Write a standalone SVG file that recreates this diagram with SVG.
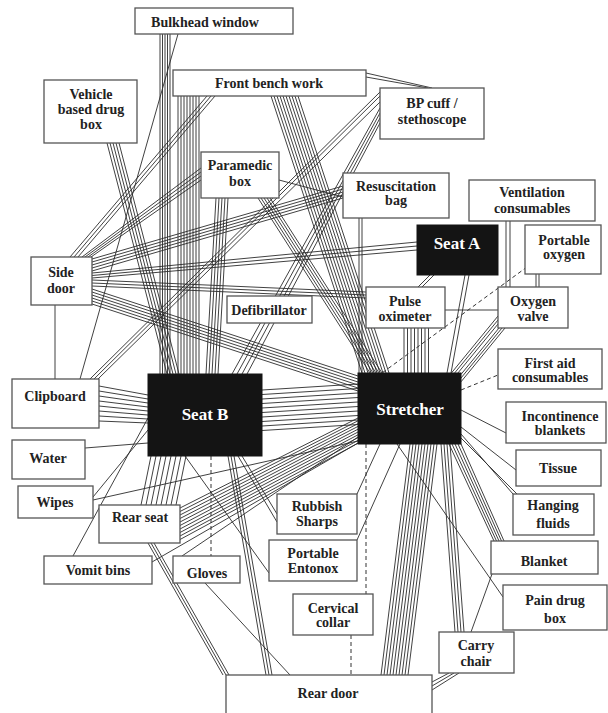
<svg xmlns="http://www.w3.org/2000/svg" width="608" height="713" viewBox="0 0 608 713">
<style>
.c{fill:none;stroke:#2b2b2b;stroke-width:0.9}
.d{fill:none;stroke:#333;stroke-width:1;stroke-dasharray:4 3}
.b{fill:#fff;stroke:#555;stroke-width:1.3}
.k{fill:#141414;stroke:#141414}
.t{font-family:"Liberation Serif","Times New Roman",serif;font-weight:bold;font-size:14px;fill:#222;text-anchor:middle}
.w{font-family:"Liberation Serif","Times New Roman",serif;font-weight:bold;font-size:17px;fill:#fff;text-anchor:middle}
</style>
<rect width="608" height="713" fill="#fff"/>
<g id="connectors">
<path class="c" d="M160 34V374M162.5 34V374M165 34V374M167.5 34V374M170 34V374"/>
<path class="c" d="M178 34L80 379"/>
<path class="c" d="M178 96V374M181 96V374M184 96V374M187 96V374M190 96V374M193 96V374M196 96V374M199 96V374"/>
<path class="c" d="M271 96L362 373M274 96L365 373M277 96L368 373M280 96L371 373M283 96L374 373M286 96L377 373M289 96L380 373M292 96L383 373M295 96L386 373M298 96L389 373"/>
<path class="c" d="M207 96L70 257M211 96L74 257M215 96L78 257"/>
<path class="c" d="M366 73L432 88M366 77L428 88"/>
<path class="c" d="M107 143L167 374M110 143L170 374M113 143L173 374M116 143L176 374M119 143L179 374"/>
<path class="c" d="M216 198L206 374M219 198L209 374M222 198L212 374M225 198L215 374M228 198L218 374"/>
<path class="c" d="M258 198L370 373M261 198L373 373M264 198L376 373M267 198L379 373M270 198L382 373"/>
<path class="c" d="M201 168L82 257M201 172L85 257M201 176L88 257M201 180L91 257"/>
<path class="c" d="M279 180L343 197"/>
<path class="c" d="M380 108L232 374M380 113L237 374M380 118L242 374M380 123L247 374"/>
<path class="c" d="M382 90L90 379M380 96L94 379M380 102L98 379"/>
<path class="c" d="M343 186L92 259M343 189L92 262M343 192L92 265M343 195L92 268M343 198L92 271"/>
<path class="c" d="M359 218V373M362 218V373"/>
<path class="c" d="M506 221V287M510 221V287"/>
<path class="c" d="M536 274V287M539 274V287"/>
<path class="c" d="M417 242L92 273M417 246L92 275.5M417 250L92 278"/>
<path class="c" d="M430 275L418 287M434 275L422 287"/>
<path class="c" d="M465 275L447 373M469 275L451 373"/>
<path class="c" d="M445 310H498"/>
<path class="c" d="M404 328V373M407.5 328V373M411 328V373M414.5 328V373M418 328V373M421.5 328V373M425 328V373M428.5 328V373"/>
<path class="d" d="M527 267L382 373"/>
<path class="c" d="M498 316L451.4 373M498 320L454.6 373M498 324L457.9 373M499 328L461 374.4M502 328L461 378M505 328L461 381.8"/>
<path class="d" d="M461 390L498 375"/>
<path class="c" d="M461 410L506 433"/>
<path class="c" d="M461 427L516 470"/>
<path class="c" d="M461 434L513 494M461 438L517 494"/>
<path class="c" d="M449 444L494 541M452 444L496.5 541M455 444L499 541M458 444L501.5 541M461 444L504 541"/>
<path class="c" d="M441 444L455 632M444 444L458 632M447 444L461 632M450 444L464 632"/>
<path class="c" d="M410 444L381 675M413 444L384 675M416 444L387 675M419 444L390 675M422 444L393 675M425 444L396 675M428 444L399 675M431 444L402 675M434 444L405 675M437 444L408 675"/>
<path class="c" d="M449 673L432 682M454 673L432 686M459 673L432 690"/>
<path class="c" d="M492 574L471 632"/>
<path class="c" d="M397 444L503 597"/>
<path class="c" d="M380 444L357 494"/>
<path class="c" d="M400 444L357 540"/>
<path class="d" d="M366 444V594"/>
<path class="d" d="M351 635V675"/>
<path class="c" d="M262 390L358 384M262 394.5L358 388.5M262 399L358 393M262 403.5L358 397.5M262 408L358 402M262 412.5L358 406.5M262 417L358 411M262 421.5L358 415.5M262 426L358 420M262 430.5L358 424.5"/>
<path class="c" d="M99 386L148 395M99 391L148 399M99 396L148 403M99 401L148 407M99 406L148 411M99 411L148 415M99 416L148 419M99 421L148 423"/>
<path class="c" d="M85 448L148 443"/>
<path class="c" d="M93 497L148 430"/>
<path class="c" d="M93 500L358 441"/>
<path class="c" d="M73 556L148 418"/>
<path class="c" d="M152 562L358 443"/>
<path class="c" d="M141 505L151 456M146 505L156 456M151 505L161 456M156 505L166 456M161 505L171 456M166 505L176 456M171 505L181 456M176 505L186 456"/>
<path class="c" d="M180 508L358 418M180 511.5L358 420.8M180 515L358 423.6M180 518.5L358 426.4M180 522L358 429.2M180 525.5L358 432M180 529L358 434.8M180 532.5L358 437.6M180 536L358 440.4M180 539.5L358 443.2"/>
<path class="c" d="M148 543L223 675M151 543L226 675M154 543L229 675"/>
<path class="d" d="M211 456V556"/>
<path class="c" d="M205 583L290 675"/>
<path class="c" d="M182 556L358 437"/>
<path class="c" d="M228 456L266 675M231 456L269 675M234 456L272 675"/>
<path class="c" d="M185 456L269 573"/>
<path class="c" d="M238 456L277 522M242 456L277 514"/>
<path class="c" d="M55 305V379"/>
<path class="c" d="M92 289L358 376M92 292L358 379M92 295L358 382M92 298L358 385M92 301L358 388M92 304L358 391"/>
<path class="c" d="M92 280L366 292M92 283L366 295M92 286L366 298"/>
</g>
<g id="bulkhead-window"><rect class="b" x="135" y="8" width="158" height="26"/><text class="t" x="205" y="27">Bulkhead window</text></g>
<g id="front-bench-work"><rect class="b" x="173" y="70" width="193" height="26"/><text class="t" x="269" y="88">Front bench work</text></g>
<g id="vehicle-drug-box"><rect class="b" x="44" y="80" width="93" height="63"/><text class="t" x="91" y="99">Vehicle</text><text class="t" x="91" y="114">based drug</text><text class="t" x="91" y="129">box</text></g>
<g id="paramedic-box"><rect class="b" x="201" y="152" width="78" height="46"/><text class="t" x="240" y="170">Paramedic</text><text class="t" x="240" y="186">box</text></g>
<g id="bp-cuff"><rect class="b" x="380" y="88" width="104" height="51"/><text class="t" x="432" y="108">BP cuff /</text><text class="t" x="432" y="124">stethoscope</text></g>
<g id="resuscitation-bag"><rect class="b" x="343" y="173" width="106" height="45"/><text class="t" x="396" y="191">Resuscitation</text><text class="t" x="396" y="205">bag</text></g>
<g id="ventilation-consumables"><rect class="b" x="469" y="180" width="126" height="41"/><text class="t" x="532" y="197">Ventilation</text><text class="t" x="532" y="213">consumables</text></g>
<g id="seat-a"><rect class="k" x="417" y="225" width="81" height="50"/><text class="w" x="457" y="249">Seat A</text></g>
<g id="portable-oxygen"><rect class="b" x="525" y="225" width="76" height="49"/><text class="t" x="564" y="245">Portable</text><text class="t" x="564" y="259">oxygen</text></g>
<g id="side-door"><rect class="b" x="31" y="257" width="61" height="48"/><text class="t" x="61" y="277">Side</text><text class="t" x="61" y="293">door</text></g>
<g id="defibrillator"><rect class="b" x="227" y="296" width="85" height="27"/><text class="t" x="269" y="315">Defibrillator</text></g>
<g id="pulse-oximeter"><rect class="b" x="366" y="287" width="79" height="41"/><text class="t" x="405" y="306">Pulse</text><text class="t" x="405" y="321">oximeter</text></g>
<g id="oxygen-valve"><rect class="b" x="498" y="287" width="70" height="41"/><text class="t" x="533" y="306">Oxygen</text><text class="t" x="533" y="321">valve</text></g>
<g id="clipboard"><rect class="b" x="12" y="379" width="87" height="49"/><text class="t" x="55" y="401">Clipboard</text></g>
<g id="seat-b"><rect class="k" x="148" y="374" width="114" height="82"/><text class="w" x="205" y="420">Seat B</text></g>
<g id="stretcher"><rect class="k" x="358" y="373" width="103" height="71"/><text class="w" x="410" y="415">Stretcher</text></g>
<g id="first-aid-consumables"><rect class="b" x="498" y="349" width="104" height="40"/><text class="t" x="550" y="368">First aid</text><text class="t" x="550" y="382">consumables</text></g>
<g id="incontinence-blankets"><rect class="b" x="506" y="402" width="100" height="41"/><text class="t" x="560" y="421">Incontinence</text><text class="t" x="560" y="435">blankets</text></g>
<g id="tissue"><rect class="b" x="516" y="450" width="85" height="36"/><text class="t" x="558" y="473">Tissue</text></g>
<g id="water"><rect class="b" x="12" y="440" width="73" height="39"/><text class="t" x="48" y="463">Water</text></g>
<g id="wipes"><rect class="b" x="18" y="486" width="75" height="32"/><text class="t" x="55" y="507">Wipes</text></g>
<g id="rear-seat"><rect class="b" x="99" y="505" width="81" height="38"/><text class="t" x="140" y="522">Rear seat</text></g>
<g id="vomit-bins"><rect class="b" x="44" y="556" width="108" height="28"/><text class="t" x="98" y="575">Vomit bins</text></g>
<g id="gloves"><rect class="b" x="173" y="556" width="67" height="27"/><text class="t" x="207" y="578">Gloves</text></g>
<g id="rubbish-sharps"><rect class="b" x="277" y="494" width="80" height="40"/><text class="t" x="317" y="511">Rubbish</text><text class="t" x="317" y="526">Sharps</text></g>
<g id="portable-entonox"><rect class="b" x="269" y="540" width="88" height="41"/><text class="t" x="313" y="558">Portable</text><text class="t" x="313" y="573">Entonox</text></g>
<g id="cervical-collar"><rect class="b" x="293" y="594" width="80" height="41"/><text class="t" x="333" y="613">Cervical</text><text class="t" x="333" y="627">collar</text></g>
<g id="rear-door"><rect class="b" x="226" y="675" width="206" height="42"/><text class="t" x="328" y="698">Rear door</text></g>
<g id="carry-chair"><rect class="b" x="439" y="632" width="75" height="41"/><text class="t" x="476" y="650">Carry</text><text class="t" x="476" y="666">chair</text></g>
<g id="hanging-fluids"><rect class="b" x="513" y="494" width="81" height="41"/><text class="t" x="553" y="510">Hanging</text><text class="t" x="553" y="528">fluids</text></g>
<g id="blanket"><rect class="b" x="491" y="541" width="107" height="33"/><text class="t" x="544" y="566">Blanket</text></g>
<g id="pain-drug-box"><rect class="b" x="503" y="585" width="104" height="45"/><text class="t" x="555" y="605">Pain drug</text><text class="t" x="555" y="623">box</text></g>
</svg>
